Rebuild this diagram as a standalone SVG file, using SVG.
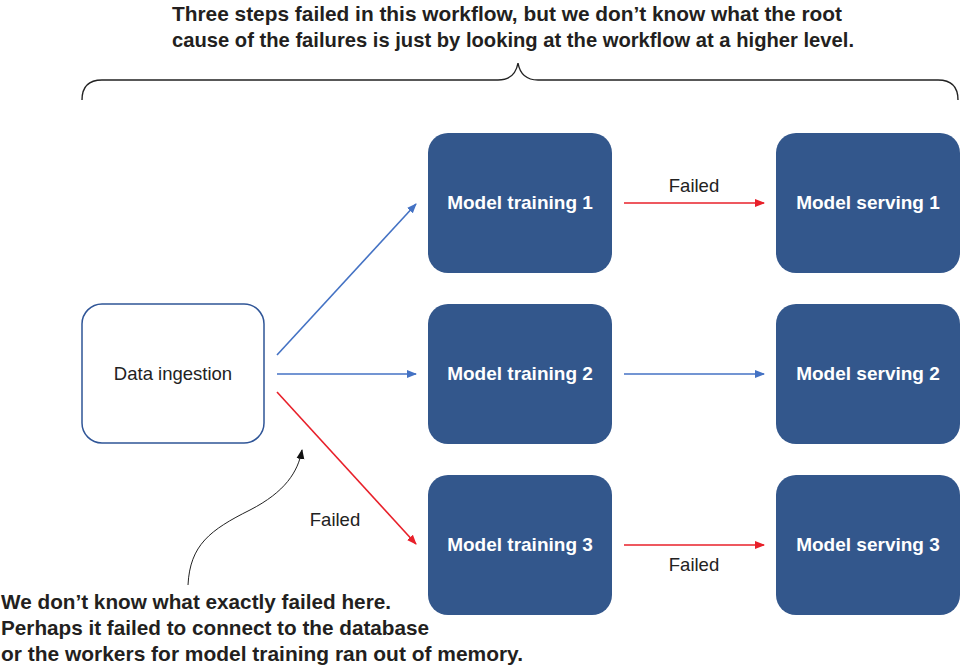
<svg xmlns="http://www.w3.org/2000/svg" width="961" height="667" viewBox="0 0 961 667">
<style>
.box{fill:#33578c;}
.bt{fill:#fff;font-family:"Liberation Sans",Arial,sans-serif;font-weight:bold;font-size:19px;text-anchor:middle;}
.lbl{fill:#222;font-family:"Liberation Sans",Arial,sans-serif;font-size:18.5px;text-anchor:middle;}
.note{fill:#231f20;font-family:"Liberation Sans",Arial,sans-serif;font-weight:bold;font-size:21px;}
.blue{stroke:#4472c4;stroke-width:1.6;fill:none;}
.red{stroke:#e8202a;stroke-width:1.6;fill:none;}
</style>
<defs>
<marker id="ab" viewBox="0 0 10 10" refX="9" refY="5" markerWidth="10" markerHeight="10" markerUnits="userSpaceOnUse" orient="auto"><path d="M0,1 L10,5 L0,9 Z" fill="#4472c4"/></marker>
<marker id="ar" viewBox="0 0 10 10" refX="9" refY="5" markerWidth="10" markerHeight="10" markerUnits="userSpaceOnUse" orient="auto"><path d="M0,1 L10,5 L0,9 Z" fill="#e8202a"/></marker>
<marker id="ak" viewBox="0 0 10 10" refX="9" refY="5" markerWidth="10" markerHeight="10" markerUnits="userSpaceOnUse" orient="auto"><path d="M0,1 L10,5 L0,9 Z" fill="#111"/></marker>
</defs>
<rect width="961" height="667" fill="#fff"/>
<g id="title">
<text class="note" x="507" y="21" text-anchor="middle" textLength="670" lengthAdjust="spacingAndGlyphs">Three steps failed in this workflow, but we don’t know what the root</text>
<text class="note" x="513" y="47" text-anchor="middle" textLength="682" lengthAdjust="spacingAndGlyphs">cause of the failures is just by looking at the workflow at a higher level.</text>
</g>
<path id="brace" d="M82,100 Q82,80 102,80 L498,80 Q515,80 518,63 Q521,80 538,80 L938,80 Q958,80 958,100" fill="none" stroke="#222" stroke-width="1.4"/>
<g id="data-ingestion">
<rect x="82" y="304" width="182" height="139" rx="20" fill="#fff" stroke="#2f5597" stroke-width="1.5"/>
<text class="lbl" x="173" y="380">Data ingestion</text>
</g>
<g id="model-training-1"><rect class="box" x="428" y="133" width="184" height="140" rx="20"/><text class="bt" x="520" y="209">Model training 1</text></g>
<g id="model-training-2"><rect class="box" x="428" y="304" width="184" height="140" rx="20"/><text class="bt" x="520" y="380">Model training 2</text></g>
<g id="model-training-3"><rect class="box" x="428" y="475" width="184" height="140" rx="20"/><text class="bt" x="520" y="551">Model training 3</text></g>
<g id="model-serving-1"><rect class="box" x="776" y="133" width="184" height="140" rx="20"/><text class="bt" x="868" y="209">Model serving 1</text></g>
<g id="model-serving-2"><rect class="box" x="776" y="304" width="184" height="140" rx="20"/><text class="bt" x="868" y="380">Model serving 2</text></g>
<g id="model-serving-3"><rect class="box" x="776" y="475" width="184" height="140" rx="20"/><text class="bt" x="868" y="551">Model serving 3</text></g>
<g id="connectors">
<line class="blue" x1="277" y1="355" x2="416" y2="204" marker-end="url(#ab)"/>
<line class="blue" x1="277" y1="374" x2="416" y2="374" marker-end="url(#ab)"/>
<line class="red" x1="277" y1="392" x2="416" y2="544" marker-end="url(#ar)"/>
<line class="red" x1="624" y1="203" x2="764" y2="203" marker-end="url(#ar)"/>
<line class="blue" x1="624" y1="374" x2="764" y2="374" marker-end="url(#ab)"/>
<line class="red" x1="624" y1="545" x2="764" y2="545" marker-end="url(#ar)"/>
<path d="M188,585 C190,545 210,530 250,510 C285,492 298,472 302,450" fill="none" stroke="#222" stroke-width="1" marker-end="url(#ak)"/>
<text class="lbl" x="694" y="192">Failed</text>
<text class="lbl" x="694" y="571">Failed</text>
<text class="lbl" x="335" y="526">Failed</text>
</g>
<g id="note">
<text class="note" x="1" y="609" textLength="390" lengthAdjust="spacingAndGlyphs">We don’t know what exactly failed here.</text>
<text class="note" x="1" y="635" textLength="428" lengthAdjust="spacingAndGlyphs">Perhaps it failed to connect to the database</text>
<text class="note" x="1" y="661" textLength="522" lengthAdjust="spacingAndGlyphs">or the workers for model training ran out of memory.</text>
</g>
</svg>
